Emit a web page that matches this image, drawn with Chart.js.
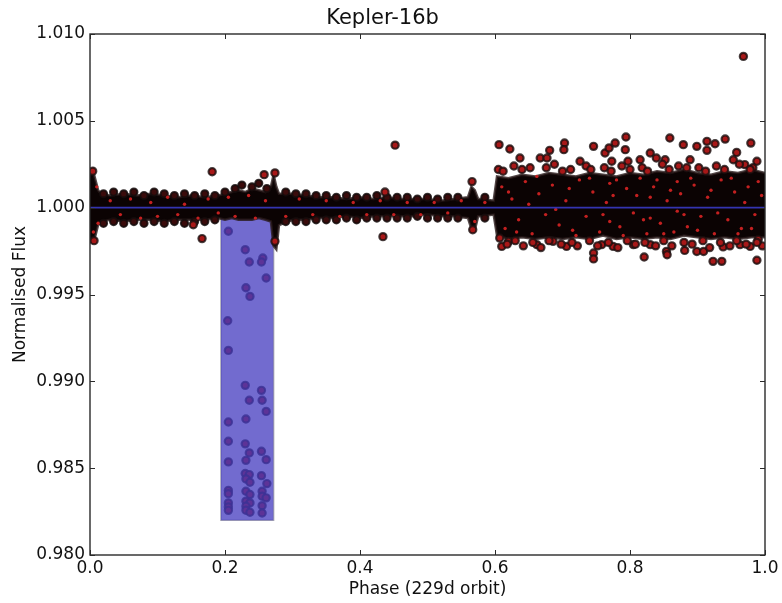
<!DOCTYPE html>
<html>
<head>
<meta charset="utf-8">
<script src="https://cdn.jsdelivr.net/npm/chart.js@4/dist/chart.umd.min.js"></script>
<style>
html,body{margin:0;padding:0;background:#fff;}
#wrap{width:782px;height:603px;}
</style>
</head>
<body>
<div id="wrap"><canvas id="c" width="782" height="603"></canvas></div>
<script>
// ---------- data ----------
const chartTitle = "Kepler-16b";
const xTitle = "Phase (229d orbit)";
const yTitle = "Normalised Flux";
const xTicks = [0.0, 0.2, 0.4, 0.6, 0.8, 1.0];
const yTicks = [0.980, 0.985, 0.990, 0.995, 1.000, 1.005, 1.010];
const baselineFlux = 1.000;

// dense band envelope (phase, upper flux, lower flux)
const bandPhase = [0, 0.004, 0.008, 0.012, 0.016, 0.03, 0.05, 0.07, 0.09, 0.11, 0.13, 0.15, 0.17, 0.19, 0.20, 0.21, 0.22, 0.23, 0.24, 0.25, 0.26, 0.268, 0.272, 0.276, 0.28, 0.30, 0.32, 0.34, 0.36, 0.38, 0.40, 0.42, 0.44, 0.46, 0.48, 0.50, 0.52, 0.54, 0.56, 0.565, 0.570, 0.575, 0.58, 0.598, 0.603, 0.62, 0.64, 0.66, 0.68, 0.70, 0.72, 0.74, 0.76, 0.78, 0.80, 0.82, 0.84, 0.86, 0.88, 0.90, 0.92, 0.94, 0.96, 0.98, 1.00];
const bandUpper = [1.0020, 1.0022, 1.0016, 1.0010, 1.0008, 1.0007, 1.0008, 1.0007, 1.0008, 1.0007, 1.0006, 1.0007, 1.0006, 1.0007, 1.0008, 1.0009, 1.0010, 1.0009, 1.0011, 1.0010, 1.0009, 1.0012, 1.0019, 1.0012, 1.0008, 1.0008, 1.0007, 1.0006, 1.0006, 1.0005, 1.0006, 1.0005, 1.0006, 1.0005, 1.0005, 1.0005, 1.0004, 1.0005, 1.0006, 1.0012, 1.0010, 1.0005, 1.0005, 1.0004, 1.0018, 1.0017, 1.0019, 1.0018, 1.0020, 1.0019, 1.0018, 1.0020, 1.0019, 1.0018, 1.0020, 1.0019, 1.0021, 1.0020, 1.0022, 1.0020, 1.0019, 1.0021, 1.0020, 1.0022, 1.0020];
const bandLower = [0.9980, 0.9981, 0.9984, 0.9990, 0.9992, 0.9993, 0.9992, 0.9993, 0.9993, 0.9992, 0.9993, 0.9993, 0.9993, 0.9994, 0.9993, 0.9994, 0.9993, 0.9993, 0.9993, 0.9994, 0.9993, 0.9992, 0.9978, 0.9976, 0.9990, 0.9993, 0.9993, 0.9994, 0.9994, 0.9995, 0.9994, 0.9995, 0.9995, 0.9995, 0.9995, 0.9996, 0.9995, 0.9995, 0.9994, 0.9988, 0.9987, 0.9995, 0.9995, 0.9996, 0.9984, 0.9982, 0.9983, 0.9982, 0.9983, 0.9982, 0.9983, 0.9982, 0.9984, 0.9982, 0.9983, 0.9982, 0.9983, 0.9982, 0.9984, 0.9983, 0.9982, 0.9983, 0.9982, 0.9983, 0.9983];

// highlighted transit window
const boxPhase = [0.194, 0.272];
const boxFlux = [0.982, 0.9995];

// points inside the transit window
const transitPoints = [
 [0.205,0.99864],[0.230,0.99758],[0.236,0.99687],[0.256,0.99710],[0.254,0.99687],[0.261,0.99595],
 [0.231,0.99539],[0.237,0.99489],[0.204,0.99349],[0.205,0.99178],[0.230,0.98977],[0.254,0.98948],
 [0.236,0.98891],[0.255,0.98891],[0.261,0.98827],[0.205,0.98766],[0.231,0.98783],[0.205,0.98655],
 [0.230,0.98640],[0.236,0.98588],[0.254,0.98597],[0.261,0.98549],[0.205,0.98536],[0.231,0.98545],
 [0.230,0.98469],[0.236,0.98463],[0.231,0.98438],[0.237,0.98419],[0.254,0.98457],[0.262,0.98411],
 [0.205,0.98372],[0.205,0.98353],[0.231,0.98367],[0.237,0.98348],[0.255,0.98367],[0.255,0.98338],
 [0.261,0.98329],[0.205,0.98300],[0.205,0.98277],[0.205,0.98257],[0.231,0.98310],[0.237,0.98300],
 [0.231,0.98281],[0.231,0.98258],[0.237,0.98246],[0.255,0.98284],[0.255,0.98242]
];

// points sitting on the edges of the quiet band (phase < 0.6)
const bandEdgePoints = [
 [0.020,1.0008],[0.035,1.0009],[0.050,1.0008],[0.065,1.0009],[0.080,1.0007],[0.095,1.0009],[0.110,1.0008],
 [0.125,1.0007],[0.140,1.0008],[0.155,1.0007],[0.170,1.0008],[0.185,1.0007],[0.200,1.0009],[0.215,1.0011],
 [0.225,1.0013],[0.240,1.0012],[0.250,1.0014],[0.262,1.0011],[0.290,1.0009],[0.305,1.0008],[0.320,1.0008],
 [0.335,1.0007],[0.350,1.0007],[0.365,1.0006],[0.380,1.0007],[0.395,1.0006],[0.410,1.0006],[0.425,1.0007],
 [0.440,1.0006],[0.455,1.0006],[0.470,1.0006],[0.485,1.0005],[0.500,1.0006],[0.515,1.0005],[0.530,1.0006],
 [0.545,1.0006],[0.585,1.0006],
 [0.020,0.9991],[0.035,0.9992],[0.050,0.9991],[0.065,0.9992],[0.080,0.9991],[0.095,0.9992],[0.110,0.9991],
 [0.125,0.9992],[0.140,0.9991],[0.155,0.9992],[0.170,0.9992],[0.185,0.9993],[0.290,0.9992],[0.305,0.9992],
 [0.320,0.9992],[0.335,0.9993],[0.350,0.9993],[0.365,0.9993],[0.380,0.9994],[0.395,0.9993],[0.410,0.9994],
 [0.425,0.9994],[0.440,0.9994],[0.455,0.9994],[0.470,0.9994],[0.485,0.9995],[0.500,0.9994],[0.515,0.9994],
 [0.530,0.9994],[0.545,0.9994],[0.585,0.9994]
];

// scattered points outside the dense core
const outlierPoints = [
 [0.181,1.00207],[0.258,1.0019],[0.274,1.0020],[0.153,0.99902],[0.166,0.99822],[0.434,0.99833],
 [0.452,1.0036],[0.437,1.0009],[0.274,0.99806],[0.004,1.0021],[0.006,0.9981],[0.567,0.99873],[0.566,1.0015],
 [0.606,1.00363],[0.622,1.00338],[0.703,1.00372],[0.702,1.00334],[0.681,1.0033],[0.667,1.00286],
 [0.677,1.00286],[0.637,1.00286],[0.746,1.00353],[0.763,1.00315],[0.769,1.00344],[0.778,1.00372],
 [0.794,1.00407],[0.793,1.00334],[0.726,1.00267],[0.830,1.00315],[0.859,1.00401],[0.879,1.00363],
 [0.899,1.00353],[0.914,1.00382],[0.926,1.00368],[0.941,1.00395],[0.914,1.0033],[0.958,1.00318],
 [0.979,1.00372],[0.852,1.00276],[0.889,1.00276],[0.953,1.00276],[0.970,1.00248],[0.988,1.00267],
 [0.815,1.00276],[0.797,1.00267],[0.839,1.00286],[0.773,1.00267],[0.968,1.00871],
 [0.610,0.99777],[0.607,0.99825],[0.620,0.99806],[0.662,0.99787],[0.686,0.99806],[0.706,0.99777],
 [0.746,0.99739],[0.746,0.99705],[0.758,0.99787],[0.775,0.99777],[0.805,0.99787],[0.821,0.99716],
 [0.830,0.99787],[0.854,0.99748],[0.855,0.99729],[0.881,0.99754],[0.899,0.99748],[0.909,0.99748],
 [0.923,0.99691],[0.936,0.99691],[0.938,0.99774],[0.963,0.99787],[0.978,0.99777],[0.988,0.99697],
 [0.990,0.99816],
 [0.605,1.0022],[0.618,0.9979],[0.628,1.0024],[0.642,0.9978],[0.652,1.0023],[0.668,0.9977],
 [0.688,1.0025],[0.698,0.9979],[0.712,1.0022],[0.722,0.9978],[0.735,1.0024],[0.752,0.9978],
 [0.762,1.0023],[0.782,0.9977],[0.788,1.0024],[0.808,0.9979],[0.818,1.0023],[0.838,0.9978],
 [0.848,1.0025],[0.862,0.9978],[0.872,1.0024],[0.892,0.9979],[0.902,1.0023],[0.918,0.9977],
 [0.928,1.0024],[0.948,0.9978],[0.962,1.0025],[0.972,0.9979],[0.982,1.0023],[0.996,0.9978],
 [0.612,1.0021],[0.640,1.0022],[0.676,1.0023],[0.700,1.0021],[0.742,1.0022],[0.772,1.0021],
 [0.800,1.0022],[0.826,1.0021],[0.858,1.0022],[0.884,1.0023],[0.912,1.0021],[0.940,1.0022],
 [0.978,1.0022],[0.630,0.9981],[0.656,0.9980],[0.680,0.9981],[0.714,0.9980],[0.740,0.9981],
 [0.768,0.9980],[0.796,0.9981],[0.822,0.9980],[0.850,0.9981],[0.880,0.9980],[0.908,0.9981],
 [0.934,0.9980],[0.958,0.9981],[0.988,0.9980]
];

// red centres visible inside the dense band
const bandSpeckles = [
 [0.010,1.0012],[0.005,0.9986],[0.012,0.9991],[0.030,1.0004],[0.045,0.9996],[0.060,1.0005],[0.075,0.9994],
 [0.090,1.0003],[0.100,0.9995],[0.115,1.0006],[0.130,0.9996],[0.140,1.0002],[0.160,0.9994],[0.175,1.0005],
 [0.190,0.9997],[0.205,1.0006],[0.215,0.9995],[0.235,1.0007],[0.245,0.9994],[0.260,1.0004],[0.290,0.9995],
 [0.310,1.0005],[0.330,0.9996],[0.350,1.0004],[0.370,0.9995],[0.390,1.0003],[0.410,0.9996],[0.430,1.0004],
 [0.450,0.9996],[0.470,1.0003],[0.490,0.9996],[0.510,1.0003],[0.530,0.9997],[0.550,1.0004],[0.570,0.9992],
 [0.585,1.0003],
 [0.610,1.0012],[0.615,0.9988],[0.625,1.0005],[0.635,0.9993],[0.645,1.0015],[0.655,0.9985],[0.665,1.0008],
 [0.675,0.9996],[0.685,1.0013],[0.695,0.9990],[0.705,1.0004],[0.715,0.9987],[0.725,1.0016],[0.735,0.9995],
 [0.745,1.0009],[0.755,0.9986],[0.765,1.0003],[0.770,1.0014],[0.770,0.9992],[0.775,1.0007],[0.785,0.9989],
 [0.795,1.0011],[0.805,0.9997],[0.815,1.0017],[0.825,0.9985],[0.830,1.0006],[0.830,0.9994],[0.835,1.0012],
 [0.845,0.9991],[0.855,1.0004],[0.865,0.9986],[0.870,1.0015],[0.870,0.9998],[0.875,1.0008],[0.885,0.9989],
 [0.895,1.0013],[0.905,0.9995],[0.915,1.0006],[0.925,0.9985],[0.935,1.0016],[0.945,0.9993],[0.955,1.0009],
 [0.965,0.9988],[0.975,1.0012],[0.985,0.9996],[0.995,1.0007],
 [0.620,1.0009],[0.632,0.9986],[0.650,1.0002],[0.662,1.0018],[0.690,0.9999],[0.710,1.0011],[0.720,0.9984],
 [0.740,1.0017],[0.760,0.9996],[0.780,1.0016],[0.790,0.9984],[0.810,1.0007],[0.820,0.9993],[0.840,1.0016],
 [0.850,0.9985],[0.860,1.0010],[0.880,0.9996],[0.890,1.0017],[0.900,0.9987],[0.920,1.0010],[0.930,0.9997],
 [0.950,1.0017],[0.960,0.9985],[0.970,1.0003],[0.980,0.9988],[0.990,1.0015]
];

// ---------- chart ----------
const FONT = "'DejaVu Sans', sans-serif";
const toXY = arr => arr.map(p => ({x: p[0], y: p[1]}));

const frameTicks = {
  id: 'frameTicks',
  afterDatasetsDraw(chart) {
    const {ctx, chartArea: a, scales: {x, y}} = chart;
    ctx.save();
    ctx.strokeStyle = '#2a2a2a';
    ctx.lineWidth = 1.4;
    ctx.strokeRect(a.left, a.top, a.right - a.left, a.bottom - a.top);
    ctx.lineWidth = 1;
    ctx.beginPath();
    xTicks.forEach(v => {
      const px = Math.round(x.getPixelForValue(v)) + 0.5;
      ctx.moveTo(px, a.bottom); ctx.lineTo(px, a.bottom - 5);
      ctx.moveTo(px, a.top); ctx.lineTo(px, a.top + 5);
    });
    yTicks.forEach(v => {
      const py = Math.round(y.getPixelForValue(v)) + 0.5;
      ctx.moveTo(a.left, py); ctx.lineTo(a.left + 5, py);
      ctx.moveTo(a.right, py); ctx.lineTo(a.right - 5, py);
    });
    ctx.stroke();
    ctx.restore();
  }
};

const pointStyle = {
  type: 'line', showLine: false,
  pointRadius: 3.6, pointHoverRadius: 3.6,
  pointBackgroundColor: '#a81818',
  pointBorderColor: 'rgba(25,15,15,0.8)',
  pointBorderWidth: 2.2
};

new Chart(document.getElementById('c'), {
  type: 'line',
  data: {
    datasets: [
      Object.assign({label: 'transit', data: toXY(transitPoints), order: 6}, pointStyle),
      {
        label: 'box', type: 'line', order: 5,
        data: [{x: boxPhase[0], y: boxFlux[1]}, {x: boxPhase[1], y: boxFlux[1]}],
        fill: {value: boxFlux[0]},
        backgroundColor: 'rgba(70,60,192,0.76)',
        borderWidth: 0, pointRadius: 0
      },
      {
        label: 'boxEdge', type: 'line', order: 5,
        data: [{x: boxPhase[0], y: boxFlux[1]}, {x: boxPhase[0], y: boxFlux[0]}, {x: boxPhase[1], y: boxFlux[0]}, {x: boxPhase[1], y: boxFlux[1]}],
        borderColor: 'rgba(160,160,170,0.9)', borderWidth: 1.5, pointRadius: 0, fill: false
      },
      {
        label: 'bandUpper', type: 'line', order: 4,
        data: bandPhase.map((p, i) => ({x: p, y: bandUpper[i]})),
        borderColor: 'rgba(40,25,25,0.8)', borderWidth: 2.5, pointRadius: 0, fill: false, tension: 0
      },
      {
        label: 'bandLower', type: 'line', order: 4,
        data: bandPhase.map((p, i) => ({x: p, y: bandLower[i]})),
        borderColor: 'rgba(40,25,25,0.8)', borderWidth: 2.5, pointRadius: 0,
        fill: '-1', backgroundColor: '#0b0303', tension: 0
      },
      {
        label: 'edges', type: 'line', showLine: false, order: 3.5,
        data: toXY(bandEdgePoints),
        pointRadius: 3.6, pointBackgroundColor: '#3a0b0b',
        pointBorderColor: 'rgba(20,12,12,0.85)', pointBorderWidth: 2
      },
      {
        label: 'speckles', type: 'line', showLine: false, order: 3,
        data: toXY(bandSpeckles),
        pointRadius: 1.7, pointBackgroundColor: '#c42020', pointBorderWidth: 0
      },
      {
        label: 'baseline', type: 'line', order: 2,
        data: [{x: xTicks[0], y: baselineFlux}, {x: xTicks[xTicks.length - 1], y: baselineFlux}],
        borderColor: '#3434b0', borderWidth: 1.6, pointRadius: 0, fill: false
      },
      Object.assign({label: 'outliers', data: toXY(outlierPoints), order: 1}, pointStyle)
    ]
  },
  options: {
    responsive: false,
    animation: false,
    events: [],
    layout: {padding: {left: 0, right: 17, top: 0, bottom: 0}},
    plugins: {
      legend: {display: false},
      tooltip: {enabled: false},
      title: {
        display: true, text: chartTitle, color: '#111',
        font: {family: FONT, size: 21, weight: 'normal'},
        padding: {top: 6, bottom: 2.8}
      }
    },
    scales: {
      x: {
        type: 'linear', min: 0, max: 1,
        afterBuildTicks: s => { s.ticks = xTicks.map(v => ({value: v})); },
        afterFit: s => { s.height = 48; },
        grid: {display: false, drawTicks: false},
        border: {display: false},
        ticks: {
          color: '#111', padding: 3, maxRotation: 0,
          font: {family: FONT, size: 17},
          callback: v => Number(v).toFixed(1)
        },
        title: {
          display: true, text: xTitle, color: '#111',
          font: {family: FONT, size: 17}, padding: {top: 0, bottom: 3}
        }
      },
      y: {
        type: 'linear', min: 0.98, max: 1.01,
        afterBuildTicks: s => { s.ticks = yTicks.map(v => ({value: v})); },
        afterFit: s => { s.width = 90; },
        grid: {display: false, drawTicks: false},
        border: {display: false},
        ticks: {
          color: '#111', padding: 5,
          font: {family: FONT, size: 17},
          callback: v => Number(v).toFixed(3)
        },
        title: {
          display: true, text: yTitle, color: '#111',
          font: {family: FONT, size: 17}, padding: {top: 10, bottom: 0}
        }
      }
    }
  },
  plugins: [frameTicks]
});
</script>
</body>
</html>
